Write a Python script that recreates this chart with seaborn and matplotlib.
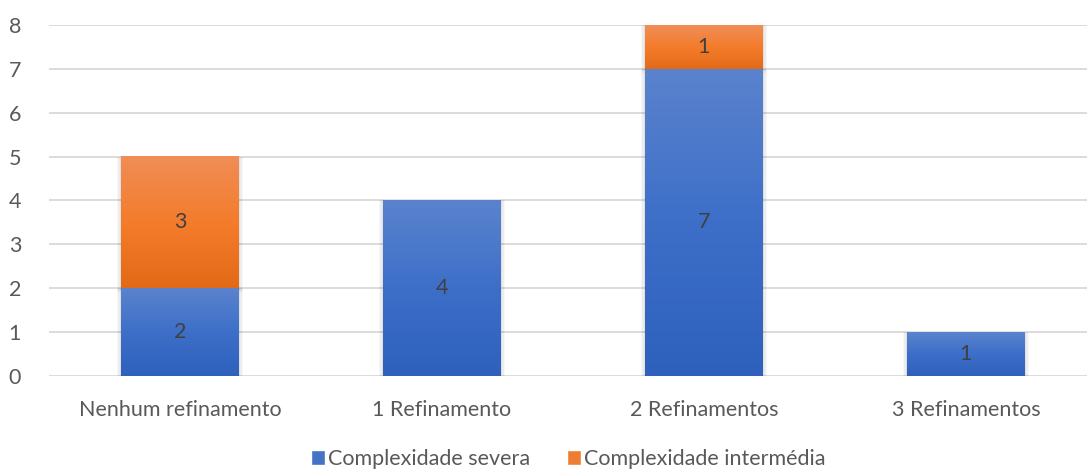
import numpy as np
import pandas as pd
import seaborn as sns
import matplotlib.pyplot as plt
from matplotlib.colors import LinearSegmentedColormap
from matplotlib.patches import Patch

# data
categorias = ['Nenhum refinamento', '1 Refinamento', '2 Refinamentos', '3 Refinamentos']
severa = [2, 4, 7, 1]
intermedia = [3, 0, 1, 0]
series = ['Complexidade severa', 'Complexidade intermédia']

sns.set_theme(style='white')
plt.rcParams['font.family'] = ['Lato', 'DejaVu Sans']
txt = '#595959'
fs = 15.5

fig = plt.figure(figsize=(10.87, 4.71), dpi=100)
ax = fig.add_axes([0.045, 0.2017, 0.955, 0.7453])

df = pd.DataFrame({'cat': categorias, 'sev': severa, 'int': intermedia})
sns.barplot(data=df, x='cat', y='sev', ax=ax, width=0.447, color='#4472C4',
            saturation=1, zorder=3)
n_sev = len(ax.patches)
sns.barplot(data=df, x='cat', y='int', ax=ax, width=0.447, color='#ED7D31',
            saturation=1, bottom=df['sev'], zorder=3)

# excel-like vertical gradients
blue_cm = LinearSegmentedColormap.from_list('b', ['#2E61BC', '#3D6FC9', '#5B83CD'])
orange_cm = LinearSegmentedColormap.from_list('o', ['#E26A17', '#F47C2B', '#F08D57'])
grad = np.linspace(0, 1, 256).reshape(-1, 1)
for i, p in enumerate(ax.patches):
    h = p.get_height()
    if h <= 0:
        continue
    x0, y0, w = p.get_x(), p.get_y(), p.get_width()
    cm = blue_cm if i < n_sev else orange_cm
    p.set_facecolor('none')
    p.set_edgecolor('none')
    # soft shadow
    for k, a in enumerate([0.05, 0.04, 0.03]):
        d = 0.006 * (k + 1)
        ax.add_patch(plt.Rectangle((x0 - d, y0 - 0.03 * (k + 1)), w + 2 * d, h + 0.03 * (k + 1),
                                   facecolor='black', alpha=a, edgecolor='none', zorder=2))
    ax.imshow(grad, cmap=cm, origin='lower', aspect='auto',
              extent=(x0, x0 + w, y0, y0 + h), zorder=3, interpolation='bilinear')
    ax.text(x0 + w / 2, y0 + h / 2, f'{int(h)}', ha='center', va='center',
            fontsize=fs, color='#404040', zorder=5)

ax.set_xlim(-0.5, 3.462)
ax.set_ylim(0, 8)
ax.set_yticks(range(0, 9))
ax.yaxis.grid(True, color='#D9D9D9', linewidth=1.3, zorder=0)
ax.set_axisbelow(True)
for s in ax.spines.values():
    s.set_visible(False)
ax.set_xlabel('')
ax.set_ylabel('')
ax.tick_params(axis='y', length=0, pad=20, labelsize=fs, labelcolor=txt)
ax.tick_params(axis='x', length=0, pad=17, labelsize=fs, labelcolor=txt)

handles = [Patch(facecolor='#4472C4'), Patch(facecolor='#ED7D31')]
fig.legend(handles, series, loc='center', bbox_to_anchor=(0.523, 0.025), ncol=2,
           frameon=False, fontsize=fs, labelcolor=txt, handlelength=0.65,
           handleheight=0.65, handletextpad=0.15, columnspacing=1.7)

fig.savefig('out.png', dpi=100)
